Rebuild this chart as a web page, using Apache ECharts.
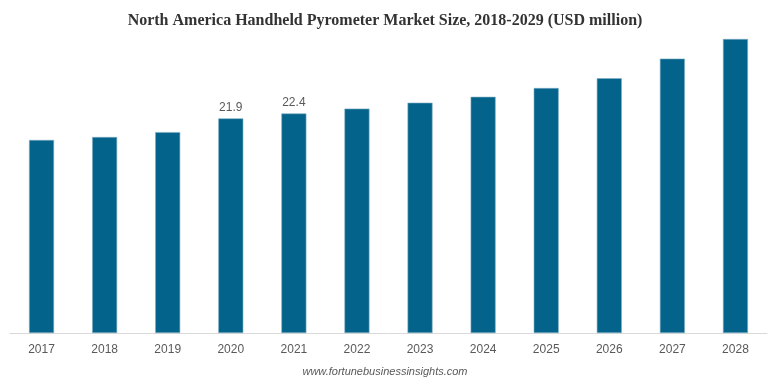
<!DOCTYPE html>
<html>
<head>
<meta charset="utf-8">
<script src="https://cdn.jsdelivr.net/npm/echarts@6/dist/echarts.min.js"></script>
<style>html,body{margin:0;padding:0;background:#fff}#c{width:770px;height:385px}</style>
</head>
<body>
<div id="c"></div>
<script>
var categories = ['2017','2018','2019','2020','2021','2022','2023','2024','2025','2026','2027','2028'];
var values = [19.7, 20.0, 20.5, 21.9, 22.4, 22.9, 23.5, 24.1, 25.0, 26.0, 28.0, 30.0];
var labeledYears = ['2020','2021'];

var chart = echarts.init(document.getElementById('c'), null, {renderer: 'canvas'});
chart.setOption({
  animation: false,
  backgroundColor: '#ffffff',
  title: {
    text: 'North America Handheld Pyrometer Market Size, 2018-2029 (USD million)',
    left: 'center',
    top: 8,
    textStyle: {fontFamily: '"Liberation Serif", "Times New Roman", serif', fontWeight: 'bold', fontSize: 16, color: '#333333'}
  },
  graphic: [{
    type: 'text',
    left: 'center',
    top: 366,
    style: {text: 'www.fortunebusinessinsights.com', fontFamily: '"Liberation Sans", Arial, sans-serif', fontStyle: 'italic', fontSize: 11, fill: '#595959'}
  }],
  grid: {left: 10, right: 3, top: 39, bottom: 52, containLabel: false},
  xAxis: {
    type: 'category',
    data: categories,
    axisLine: {lineStyle: {color: '#d9d9d9', width: 1}},
    axisTick: {show: false},
    axisLabel: {color: '#595959', fontSize: 12, fontFamily: '"Liberation Sans", Arial, sans-serif', margin: 11}
  },
  yAxis: {type: 'value', min: 0, max: 30, show: false, splitLine: {show: false}},
  series: [{
    type: 'bar',
    barWidth: 25,
    data: values.map(function (v, i) {
      return {
        value: v,
        label: {show: labeledYears.indexOf(categories[i]) >= 0}
      };
    }),
    itemStyle: {color: '#03638a', borderColor: '#7fadc4', borderWidth: 0.6},
    label: {position: 'top', distance: 5, color: '#595959', fontSize: 12, fontFamily: '"Liberation Sans", Arial, sans-serif'}
  }]
});
</script>
</body>
</html>
